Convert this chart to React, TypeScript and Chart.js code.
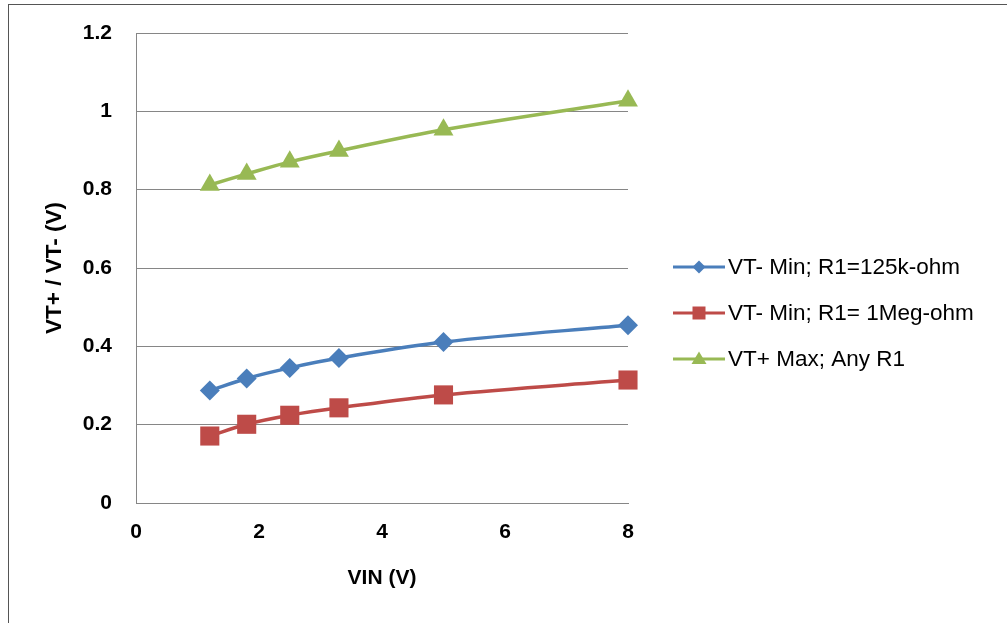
import React, { useEffect, useRef } from "react";
import { Chart, registerables } from "chart.js";

Chart.register(...registerables);

const vin = [1.2, 1.8, 2.5, 3.3, 5, 8];
const vtMin125k = [0.287, 0.318, 0.345, 0.37, 0.411, 0.454];
const vtMin1Meg = [0.171, 0.201, 0.224, 0.243, 0.276, 0.314];
const vtPlusMax = [0.812, 0.84, 0.871, 0.899, 0.953, 1.027];
const seriesNames = ["VT- Min; R1=125k-ohm", "VT- Min; R1= 1Meg-ohm", "VT+ Max; Any R1"];
const seriesColors = ["#4A7EBB", "#BE4B48", "#98B954"];
const seriesStyles = ["rectRot", "rect", "triangle"];
const seriesRadius = [10, 13.5, 11.5];

const FONT = "'Liberation Sans', Arial, sans-serif";

const legendPlugin = {
  id: "sideLegend",
  afterDraw(chart: any) {
    const ctx = chart.ctx;
    ctx.save();
    chart.data.datasets.forEach((ds: any, i: number) => {
      const y = 267 + 46 * i;
      const cx = 699;
      ctx.strokeStyle = ds.borderColor;
      ctx.lineWidth = 3;
      ctx.beginPath();
      ctx.moveTo(673, y);
      ctx.lineTo(725, y);
      ctx.stroke();
      ctx.fillStyle = ds.borderColor;
      const st = ds.pointStyle;
      ctx.beginPath();
      if (st === "rectRot") {
        ctx.moveTo(cx, y - 6.5);
        ctx.lineTo(cx + 6.5, y);
        ctx.lineTo(cx, y + 6.5);
        ctx.lineTo(cx - 6.5, y);
      } else if (st === "rect") {
        ctx.rect(cx - 6.5, y - 6.5, 13, 13);
      } else {
        ctx.moveTo(cx, y - 7.5);
        ctx.lineTo(cx + 7.5, y + 5);
        ctx.lineTo(cx - 7.5, y + 5);
      }
      ctx.closePath();
      ctx.fill();
      ctx.fillStyle = "#000";
      ctx.font = `22.5px ${FONT}`;
      ctx.textBaseline = "middle";
      ctx.textAlign = "left";
      ctx.fillText(ds.label, 728, y + 1);
    });
    ctx.restore();
  },
};

export default function App() {
  const ref = useRef<HTMLCanvasElement | null>(null);
  useEffect(() => {
    if (!ref.current) return;
    const values = [vtMin125k, vtMin1Meg, vtPlusMax];
    const tickFont = { family: FONT, size: 21, weight: "bold" as const };
    const chart = new Chart(ref.current, {
      type: "line",
      data: {
        datasets: values.map((arr, i) => ({
          label: seriesNames[i],
          data: vin.map((x, j) => ({ x, y: arr[j] })),
          borderColor: seriesColors[i],
          backgroundColor: seriesColors[i],
          pointBackgroundColor: seriesColors[i],
          pointBorderColor: seriesColors[i],
          pointStyle: seriesStyles[i] as any,
          pointRadius: seriesRadius[i],
          pointBorderWidth: 0,
          borderWidth: 3.5,
          tension: 0.35,
          fill: false,
          clip: false as any,
        })),
      },
      options: {
        animation: false,
        responsive: false,
        maintainAspectRatio: false,
        layout: { padding: { left: 0, top: 33, right: 379, bottom: 0 } },
        plugins: { legend: { display: false }, tooltip: { enabled: false } },
        scales: {
          x: {
            type: "linear",
            min: 0,
            max: 8,
            ticks: { stepSize: 2, color: "#000", font: tickFont, padding: 17 },
            grid: { display: false, drawTicks: false },
            border: { color: "#868686", width: 1 },
            title: { display: true, text: "VIN (V)", color: "#000", font: tickFont, padding: { top: 0, bottom: 32 } },
            afterFit(scale: any) {
              scale.height = 120;
              scale.paddingLeft = 0;
              scale.paddingRight = 0;
            },
          },
          y: {
            min: 0,
            max: 1.2,
            ticks: { stepSize: 0.2, color: "#000", font: tickFont, padding: 24, callback: (v: any) => String(Math.round(Number(v) * 10) / 10) },
            grid: { color: "#868686", lineWidth: 1, drawTicks: false },
            border: { color: "#868686", width: 1 },
            title: { display: true, text: "VT+ / VT- (V)", color: "#000", font: { family: FONT, size: 22.5, weight: "bold" }, padding: { top: 41, bottom: 0 } },
            afterFit(scale: any) {
              scale.width = 136;
              scale.paddingTop = 0;
              scale.paddingBottom = 0;
            },
          },
        },
      },
      plugins: [legendPlugin],
    });
    return () => chart.destroy();
  }, []);
  return (
    <div style={{ position: "fixed", left: 0, top: 0, width: 1007, height: 623, overflow: "hidden", background: "#fff" }}>
      <div style={{ position: "absolute", left: 8, top: 4, width: 1100, height: 700, border: "1px solid #555" }} />
      <canvas ref={ref} width={1007} height={623} style={{ position: "absolute", left: 0, top: 0, width: 1007, height: 623 }} />
    </div>
  );
}
